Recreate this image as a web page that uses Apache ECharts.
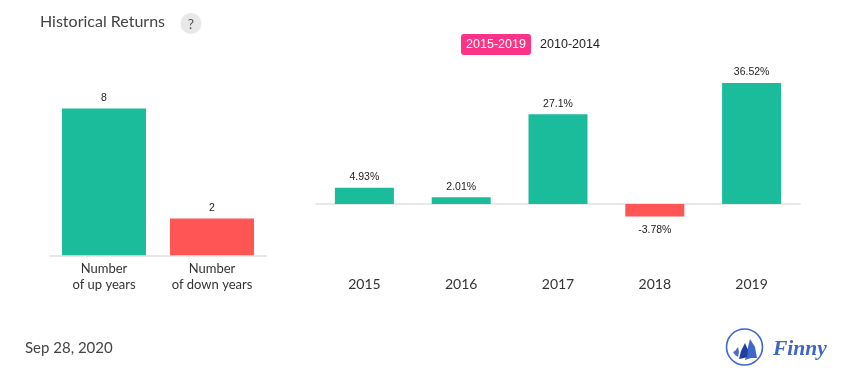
<!DOCTYPE html>
<html>
<head>
<meta charset="utf-8">
<title>Historical Returns</title>
<script src="https://cdn.jsdelivr.net/npm/echarts@6/dist/echarts.min.js"></script>
<style>
  html, body { margin: 0; padding: 0; background: #fff; }
  #chart { width: 855px; height: 382px; }
</style>
</head>
<body>
<div id="chart"></div>
<script>
// left panel
const countCategories = ['Number\nof up years', 'Number\nof down years'];
const countValues = [8, 2];
// right panel
const years = ['2015', '2016', '2017', '2018', '2019'];
const returns = [4.93, 2.01, 27.1, -3.78, 36.52];
const returnLabels = ['4.93%', '2.01%', '27.1%', '-3.78%', '36.52%'];

const UP = '#1abc9c';
const DOWN = '#ff5555';
const LATO = 'Lato, sans-serif';
const LIB = '"Liberation Sans", Arial, sans-serif';

const chart = echarts.init(document.getElementById('chart'), null, { renderer: 'canvas' });

chart.setOption({
  animation: false,
  backgroundColor: '#fff',
  grid: [
    { left: 50, top: 108.4, width: 216, height: 146.9 },
    { left: 316, top: 83, width: 484, height: 133.5 }
  ],
  xAxis: [{
    type: 'category',
    gridIndex: 0,
    data: countCategories,
    axisTick: { show: false },
    axisLine: { lineStyle: { color: '#e8e8e8', width: 2 } },
    axisLabel: { color: '#333', fontFamily: LATO, fontSize: 13, lineHeight: 16, margin: 6, interval: 0 }
  }, {
    type: 'category',
    gridIndex: 1,
    data: years,
    axisTick: { show: false },
    axisLine: { onZero: true, lineStyle: { color: '#e8e8e8', width: 2 } },
    axisLabel: { color: '#333', fontFamily: LATO, fontSize: 14, margin: 61, interval: 0 }
  }],
  yAxis: [{
    type: 'value',
    gridIndex: 0,
    min: 0,
    max: 8,
    show: false
  }, {
    type: 'value',
    gridIndex: 1,
    min: -3.78,
    max: 36.52,
    show: false
  }],
  series: [{
    type: 'bar',
    xAxisIndex: 0,
    yAxisIndex: 0,
    barWidth: 84,
    data: countValues.map((v, i) => ({ value: v, itemStyle: { color: i === 0 ? UP : DOWN } })),
    label: { show: true, position: 'top', distance: 5, color: '#222', fontFamily: LIB, fontSize: 10.5 }
  }, {
    type: 'bar',
    xAxisIndex: 1,
    yAxisIndex: 1,
    barWidth: 59,
    data: returns.map(v => ({
      value: v,
      itemStyle: { color: v < 0 ? DOWN : UP },
      label: { position: v < 0 ? 'bottom' : 'top', distance: v < 0 ? 8 : 5 }
    })),
    label: {
      show: true,
      color: '#222',
      fontFamily: LIB,
      fontSize: 10.5,
      formatter(p) {
        return returnLabels[p.dataIndex];
      }
    }
  }],
  graphic: [
    { type: 'text', x: 40, y: 14, style: { text: 'Historical Returns', fill: '#444', font: '16px ' + LATO } },
    { type: 'circle', shape: { cx: 191, cy: 23.5, r: 10.5 }, style: { fill: '#e8e8e8' } },
    { type: 'text', x: 191, y: 24, style: { text: '?', fill: '#555', font: '14px ' + LATO, align: 'center', verticalAlign: 'middle' } },
    { type: 'rect', shape: { x: 461, y: 34, width: 70, height: 21, r: 3 }, style: { fill: '#ff3385' } },
    { type: 'text', x: 496, y: 45, style: { text: '2015-2019', fill: '#fff', font: '12.5px ' + LIB, align: 'center', verticalAlign: 'middle' } },
    { type: 'text', x: 570, y: 45, style: { text: '2010-2014', fill: '#222', font: '12.5px ' + LIB, align: 'center', verticalAlign: 'middle' } },
    { type: 'text', x: 25, y: 341, style: { text: 'Sep 28, 2020', fill: '#444', font: '15px ' + LATO } },
    // logo
    { type: 'circle', shape: { cx: 744.5, cy: 347, r: 18 }, style: { fill: 'none', stroke: '#3f66c8', lineWidth: 1.6 } },
    { type: 'polygon', shape: { points: [[750, 339], [755, 347], [757, 358], [751, 358], [745, 360], [747, 351]] }, style: { fill: '#3f66c8' } },
    { type: 'polygon', shape: { points: [[745, 343], [748, 350], [747, 357], [744, 358], [739, 359], [741, 351]] }, style: { fill: '#1f3f9f' } },
    { type: 'polygon', shape: { points: [[738, 347], [739, 352], [738, 357], [735, 355], [733, 352], [735, 351]] }, style: { fill: '#4a6dc6' } },
    { type: 'text', x: 773, y: 349, style: { text: 'Finny', fill: '#3f66c8', font: 'italic bold 21.5px "Liberation Serif", serif', verticalAlign: 'middle' } }
  ]
});
</script>
</body>
</html>
